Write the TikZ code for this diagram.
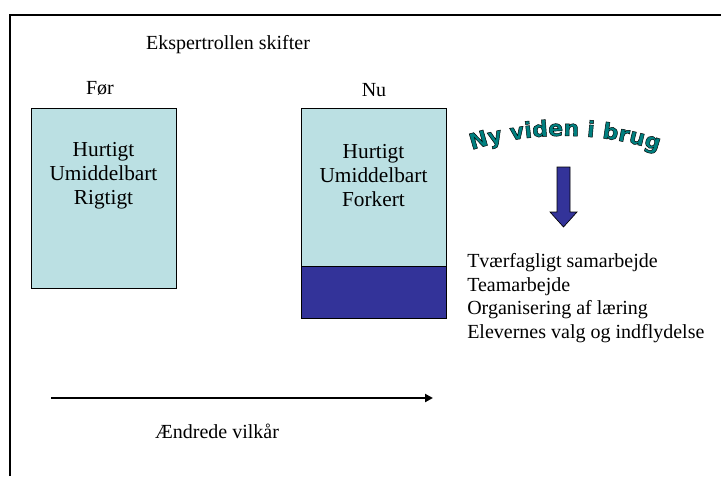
\documentclass[tikz,border=0pt]{standalone}
\usepackage{fontspec}
\setmainfont{Liberation Serif}
\newfontfamily\artfont{DejaVu Sans}[BoldFont={* Bold}]
\usetikzlibrary{arrows.meta,decorations.text}
\definecolor{boxfill}{RGB}{187,224,227}
\definecolor{deepblue}{RGB}{51,51,153}
\definecolor{artteal}{RGB}{0,128,128}
% bold sans with a thin dark outline round each glyph
\newcommand\artstyle{\artfont\bfseries\fontsize{16.5}{16.5}\selectfont\special{pdf:literal direct 0 0 0 RG 0.35 w 2 Tr}}
\tikzset{
  panel/.style={draw=black, line width=0.6pt, fill=boxfill, inner sep=0pt,
    minimum width=108.75pt},
  basepanel/.style={draw=black, line width=0.6pt, fill=deepblue, inner sep=0pt,
    minimum width=108.75pt},
  label/.style={font=\fontsize{15}{17}\selectfont, inner sep=0pt},
  boxtext/.style={font=\fontsize{16}{18}\selectfont, align=center, inner sep=0pt},
  listtext/.style={font=\fontsize{15}{17.6}\selectfont, align=left, inner sep=0pt},
}
\begin{document}
\begin{tikzpicture}[x=0.75pt,y=-0.75pt]
\useasboundingbox (0,0) rectangle (721,476);

% frame
\draw[line width=1.5pt] (10,476) -- (10,15) -- (721,15);

% title and column headings
\node[label] (title) at (228,45) {Ekspertrollen skifter};
\node[label] (before) at (100,88) {Før};
\node[label] (now) at (374,90) {Nu};

% the two panels
\node[panel, minimum height=135pt] (oldbox) at (103.5,198) {};
\node[panel, minimum height=118.5pt] (newbox) at (373.5,187) {};
\node[basepanel, minimum height=39pt] (newbase) at (373.5,292) {};

\node[boxtext] (oldtext) at (103.5,176) {Hurtigt\\Umiddelbart\\Rigtigt};
\node[boxtext] (newtext) at (373.5,176) {Hurtigt\\Umiddelbart\\Forkert};

% arched heading
\path[decorate, decoration={text along path, text align=center,
  text={|\artstyle|Ny viden i brug},
  text color=artteal}]
  (472,150) .. controls (530,131) and (600,131) .. (658,151);

% block arrow pointing down
\coordinate (s1) at (557,167);
\coordinate (s2) at (570,167);
\coordinate (s3) at (570,212);
\coordinate (h1) at (577,212);
\coordinate (tip) at (563.5,227);
\coordinate (h2) at (550,212);
\coordinate (s4) at (557,212);
\draw[fill=deepblue, draw=black, line width=0.5pt, line join=miter]
  (s1) -- (s2) -- (s3) -- (h1) -- (tip) -- (h2) -- (s4) -- cycle;

% list of new knowledge
\node[listtext, anchor=base west] (list) at (467,338)
  {Tværfagligt samarbejde\\Teamarbejde\\Organisering af læring\\Elevernes valg og indflydelse};

% timeline arrow
\coordinate (t0) at (51,398);
\coordinate (t1) at (433,398);
\draw[line width=1.5pt, -{Triangle[length=6pt,width=6pt]}] (t0) -- (t1);
\node[label] (cond) at (217,431) {Ændrede vilkår};
\end{tikzpicture}
\end{document}
